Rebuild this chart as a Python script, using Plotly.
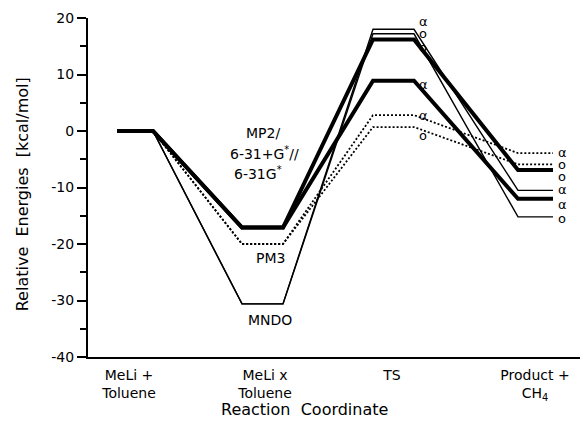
import plotly.graph_objects as go

# ---- data ----
stages = ["MeLi +<br>Toluene", "MeLi x<br>Toluene", "TS", "Product +<br>CH<sub>4</sub>"]

mndo_alpha = [0, -30.6, 18.0, -10.5]
mndo_ortho = [0, -30.6, 17.2, -15.2]
pm3_alpha = [0, -20.0, 2.8, -3.9]
pm3_ortho = [0, -20.0, 0.7, -5.9]
mp2_alpha = [0, -17.1, 8.9, -12.0]
mp2_ortho = [0, -17.1, 16.2, -6.9]

path_labels = ["α", "o", "α", "o", "α", "o"]

# ---- layout constants (x in pixel-like units of the x axis) ----
lvl_start = [117, 242, 373, 518]
lvl_end = [153, 283, 414, 553]
tick_centers = [129, 265, 392, 535]

series = [
    # values, width, dash, ts label shift, product label shift
    (mndo_alpha, 1.4, "solid", 8, 1),
    (mndo_ortho, 1.4, "solid", 0, -2),
    (pm3_alpha, 1.8, "2px,2px", 0, 1),
    (pm3_ortho, 1.8, "2px,2px", -8, 0),
    (mp2_alpha, 4, "solid", -4, -6),
    (mp2_ortho, 4, "solid", -8, -7),
]

fig = go.Figure()
annotations = []
for (vals, w, dash, ts_shift, pr_shift), lab in zip(series, path_labels):
    xs, ys = [], []
    for s, e, v in zip(lvl_start, lvl_end, vals):
        xs += [s, e]
        ys += [v, v]
    fig.add_trace(go.Scatter(x=xs, y=ys, mode="lines",
                             line=dict(color="black", width=w, dash=dash),
                             hoverinfo="skip", showlegend=False))
    annotations.append(dict(x=423, y=vals[2], xref="x", yref="y", text=lab,
                            showarrow=False, yshift=ts_shift,
                            font=dict(size=13, color="black", family="DejaVu Sans")))
    annotations.append(dict(x=562, y=vals[3], xref="x", yref="y", text=lab,
                            showarrow=False, yshift=pr_shift,
                            font=dict(size=13, color="black", family="DejaVu Sans")))

method_text = [
    ("MP2/", 263, -0.4),
    ("6-31+G<sup>*</sup>//", 264, -3.9),
    ("6-31G<sup>*</sup>", 258, -7.4),
    ("PM3", 270, -22.4),
    ("MNDO", 270, -33.5),
]
for t, x, y in method_text:
    annotations.append(dict(x=x, y=y, xref="x", yref="y", text=t, showarrow=False,
                            font=dict(size=14, color="black", family="DejaVu Sans")))

annotations.append(dict(x=(304 - 88) / 492, y=-0.155, xref="paper", yref="paper",
                        yanchor="middle", text="Reaction  Coordinate", showarrow=False,
                        font=dict(size=16, color="black", family="DejaVu Sans")))
annotations.append(dict(x=(22 - 88) / 492, y=0.48, xref="paper", yref="paper",
                        text="Relative  Energies  [kcal/mol]", showarrow=False,
                        textangle=-90, xanchor="center", yanchor="middle",
                        font=dict(size=16, color="black", family="DejaVu Sans")))

yticks = [20, 10, 0, -10, -20, -30, -40]
fig.update_layout(
    width=584, height=424,
    margin=dict(l=88, r=4, t=18, b=67),
    paper_bgcolor="white", plot_bgcolor="white",
    font=dict(family="DejaVu Sans", color="black"),
    annotations=annotations,
    xaxis=dict(range=[88, 580], showgrid=False, zeroline=False, automargin=False,
               showline=True, linecolor="black", linewidth=2,
               tickmode="array", tickvals=tick_centers, ticktext=stages,
               ticks="", ticklabelstandoff=4,
               tickfont=dict(size=14, color="black")),
    yaxis=dict(range=[-40, 20], showgrid=False, zeroline=False, automargin=False,
               showline=True, linecolor="black", linewidth=2,
               tickmode="array", tickvals=yticks,
               ticktext=[str(v) for v in yticks],
               ticks="outside", ticklen=9, tickwidth=1.5, tickcolor="black",
               tickfont=dict(size=14, color="black"),
               minor=dict(tickvals=[15, 5, -5, -15, -25, -35], ticks="outside",
                          ticklen=6, tickwidth=1.5, tickcolor="black")),
)

fig.write_html("out.html", config={"displayModeBar": False},
               post_script="document.body.style.margin='0';document.body.style.overflow='hidden';")
